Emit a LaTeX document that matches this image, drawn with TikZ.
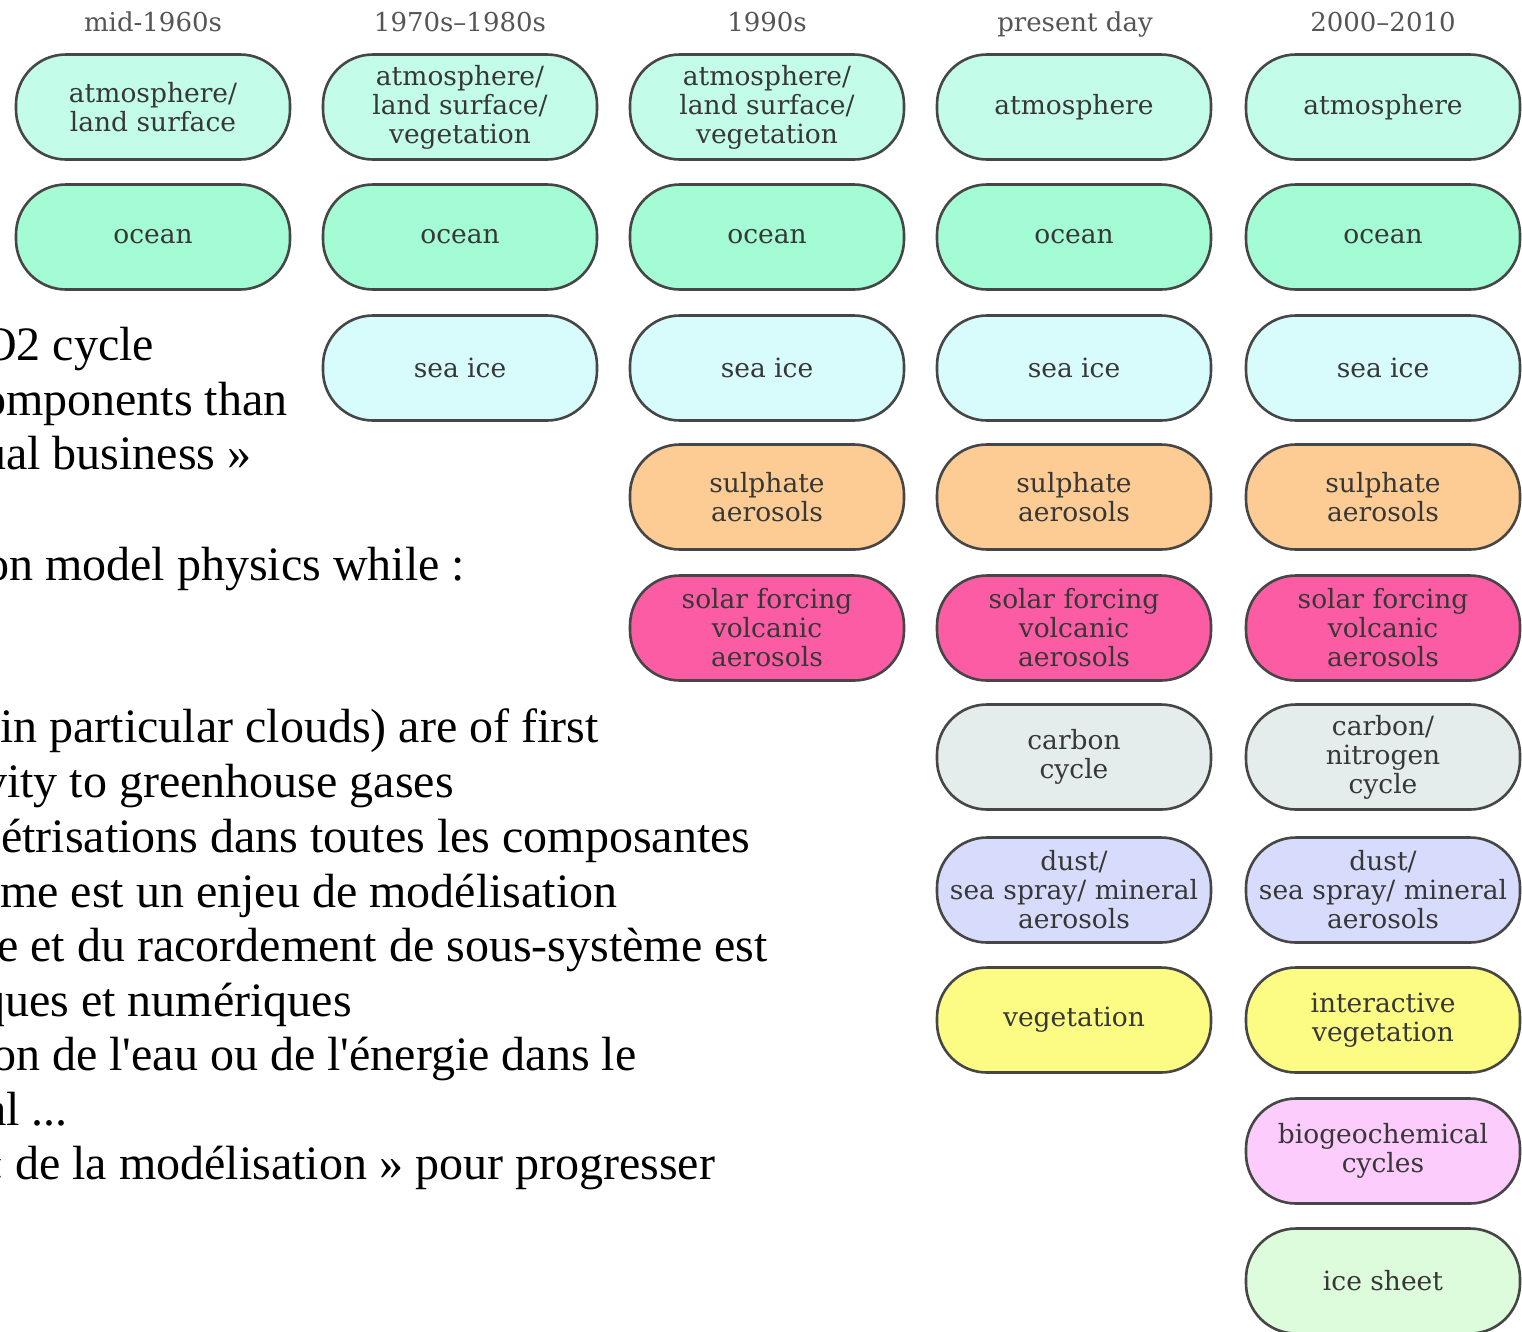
\documentclass[tikz,border=0pt]{standalone}
\usepackage{fontspec}
\setmainfont{Liberation Serif}
\newfontfamily\nodefont{DejaVu Serif}
\definecolor{edgec}{RGB}{70,70,70}
\definecolor{txtc}{RGB}{55,55,55}
\definecolor{hdrc}{RGB}{85,85,85}
\definecolor{atmc}{RGB}{196,252,234}
\definecolor{ocnc}{RGB}{164,252,212}
\definecolor{icec}{RGB}{216,252,252}
\definecolor{sulc}{RGB}{252,204,148}
\definecolor{solc}{RGB}{252,92,164}
\definecolor{carc}{RGB}{228,236,236}
\definecolor{dstc}{RGB}{216,220,252}
\definecolor{vegc}{RGB}{252,252,132}
\definecolor{bgcc}{RGB}{252,204,252}
\definecolor{shtc}{RGB}{220,252,220}
\begin{document}
\begin{tikzpicture}[x=1pt,y=-1pt,
  comp/.style={draw=edgec, line width=2.6pt, rounded corners=50pt,
    minimum width=274pt, minimum height=105pt, inner sep=0pt, align=center,
    text=txtc, font=\nodefont\fontsize{26.5pt}{29pt}\selectfont},
  hdr/.style={anchor=base, text=hdrc, inner sep=0pt, font=\nodefont\fontsize{26pt}{30pt}\selectfont},
  body/.style={anchor=base west, inner sep=0pt, text=black, font=\fontsize{48pt}{55pt}\selectfont}]
\useasboundingbox (0,0) rectangle (1522,1331);
\clip (0,0) rectangle (1522,1331);
\fill[white] (0,0) rectangle (1522,1331);

% headers
\node[hdr] (h1) at (153,31) {mid-1960s};
\node[hdr] (h2) at (460,31) {1970s–1980s};
\node[hdr] (h3) at (767,31) {1990s};
\node[hdr] (h4) at (1075,31) {present day};
\node[hdr] (h5) at (1383,31) {2000–2010};

% column 1
\node[comp, fill=atmc] (a1) at (153,107) {atmosphere/\\land surface};
\node[comp, fill=ocnc] (o1) at (153,237) {ocean};

% column 2
\node[comp, fill=atmc] (a2) at (460,107) {atmosphere/\\land surface/\\vegetation};
\node[comp, fill=ocnc] (o2) at (460,237) {ocean};
\node[comp, fill=icec] (i2) at (460,368) {sea ice};

% column 3
\node[comp, fill=atmc] (a3) at (767,107) {atmosphere/\\land surface/\\vegetation};
\node[comp, fill=ocnc] (o3) at (767,237) {ocean};
\node[comp, fill=icec] (i3) at (767,368) {sea ice};
\node[comp, fill=sulc] (s3) at (767,497) {sulphate\\aerosols};
\node[comp, fill=solc] (v3) at (767,628) {solar forcing\\volcanic\\aerosols};

% column 4
\node[comp, fill=atmc] (a4) at (1074,107) {atmosphere};
\node[comp, fill=ocnc] (o4) at (1074,237) {ocean};
\node[comp, fill=icec] (i4) at (1074,368) {sea ice};
\node[comp, fill=sulc] (s4) at (1074,497) {sulphate\\aerosols};
\node[comp, fill=solc] (v4) at (1074,628) {solar forcing\\volcanic\\aerosols};
\node[comp, fill=carc] (c4) at (1074,757) {carbon\\cycle};
\node[comp, fill=dstc] (d4) at (1074,890) {dust/\\sea spray/ mineral\\aerosols};
\node[comp, fill=vegc] (g4) at (1074,1020) {vegetation};

% column 5
\node[comp, fill=atmc] (a5) at (1383,107) {atmosphere};
\node[comp, fill=ocnc] (o5) at (1383,237) {ocean};
\node[comp, fill=icec] (i5) at (1383,368) {sea ice};
\node[comp, fill=sulc] (s5) at (1383,497) {sulphate\\aerosols};
\node[comp, fill=solc] (v5) at (1383,628) {solar forcing\\volcanic\\aerosols};
\node[comp, fill=carc] (c5) at (1383,757) {carbon/\\nitrogen\\cycle};
\node[comp, fill=dstc] (d5) at (1383,890) {dust/\\sea spray/ mineral\\aerosols};
\node[comp, fill=vegc] (g5) at (1383,1020) {interactive\\vegetation};
\node[comp, fill=bgcc] (b5) at (1383,1151) {biogeochemical\\cycles};
\node[comp, fill=shtc] (k5) at (1383,1281) {ice sheet};

% left overlay text (cut at the left edge)
\node[body] (t1) at (-18,360) {O2 cycle};
\node[body] (t2) at (-18,415) {omponents than};
\node[body] (t3) at (-18,469) {ual business »};
\node[body] (t4) at (-15,580) {on model physics while :};
\node[body] (t5) at (0,742) {in particular clouds) are of first};
\node[body] (t6) at (-17,797) {vity to greenhouse gases};
\node[body] (t7) at (1,852) {étrisations dans toutes les composantes};
\node[body] (t8) at (0,907) {me est un enjeu de modélisation};
\node[body] (t9) at (-3,961) {e et du racordement de sous-système est};
\node[body] (t10) at (-19,1016) {ques et numériques};
\node[body] (t11) at (-8,1070) {on de l\textquotesingle eau ou de l\textquotesingle énergie dans le};
\node[body] (t12) at (-15,1125) {al ...};
\node[body] (t13) at (-21,1179) {« de la modélisation » pour progresser};
\end{tikzpicture}
\end{document}
